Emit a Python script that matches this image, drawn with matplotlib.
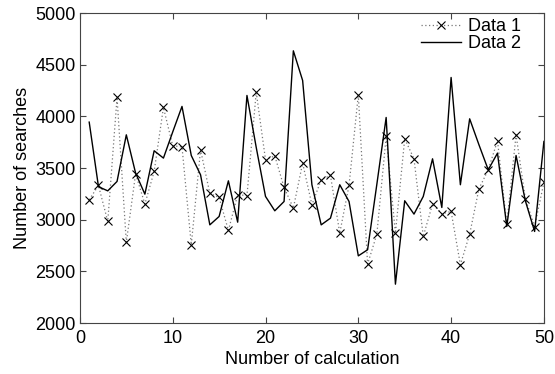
import numpy as np
import matplotlib
matplotlib.use("Agg")
import matplotlib.pyplot as plt

plt.rcParams['font.family'] = ['Liberation Sans', 'DejaVu Sans']

# values
calc = list(range(1, 51))
data1 = [3194, 3332, 2984, 4184, 2781, 3445, 3152, 3468, 4087, 3716,
         3706, 2758, 3677, 3255, 3216, 2897, 3242, 3235, 4235, 3581,
         3619, 3313, 3113, 3548, 3145, 3387, 3429, 2871, 3332, 4210,
         2571, 2861, 3806, 2871, 3784, 3590, 2839, 3152, 3058, 3081,
         2565, 2861, 3300, 3484, 3765, 2958, 3822, 3203, 2935, 3361]
data2 = [3945, 3320, 3280, 3371, 3822, 3452, 3248, 3668, 3597, 3850,
         4097, 3622, 3435, 2951, 3032, 3377, 2977, 4203, 3700, 3226,
         3087, 3177, 4635, 4348, 3339, 2951, 3016, 3339, 3177, 2651,
         2710, 3345, 3990, 2377, 3184, 3055, 3226, 3590, 3119, 4377,
         3339, 3977, 3726, 3484, 3645, 2935, 3622, 3184, 2887, 3758]
labels = ['Data 1', 'Data 2']

fs = 13

fig = plt.figure(figsize=(5.55, 3.74), dpi=100)
ax = fig.add_axes([0.144, 0.136, 0.836, 0.829])

ax.plot(calc, data1, linestyle=(0, (1, 2)), color='#777777', linewidth=0.9,
        marker='x', markersize=6, markeredgecolor='black', markeredgewidth=0.8,
        label=labels[0])
ax.plot(calc, data2, linestyle='-', color='black', linewidth=1.0, label=labels[1])

ax.set_xlim(0, 50)
ax.set_ylim(2000, 5000)
ax.set_xticks([0, 10, 20, 30, 40, 50])
ax.set_yticks(np.arange(2000, 5001, 500))
ax.tick_params(direction='in', top=True, right=True, labelsize=fs,
               color='#444444', length=4)
ax.tick_params(axis='x', pad=5)
ax.tick_params(axis='y', pad=3)
for s in ax.spines.values():
    s.set_color('#444444')
    s.set_linewidth(0.8)

ax.set_xlabel('Number of calculation', fontsize=fs, labelpad=3)
ax.set_ylabel('Number of searches', fontsize=fs, labelpad=3)

ax.legend(loc='upper right', bbox_to_anchor=(0.955, 0.99), frameon=False,
          fontsize=fs, handlelength=2.2, borderaxespad=0.0, labelspacing=0.0,
          handletextpad=0.4, borderpad=0.1)

fig.savefig('out.png', dpi=100)
